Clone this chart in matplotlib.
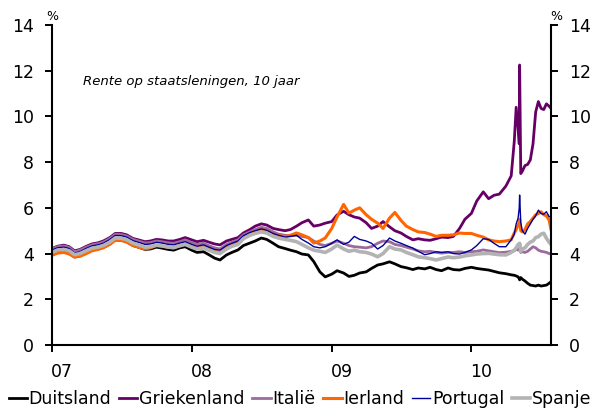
"""
Rente op staatsleningen, 10 jaar (2007 - juli 2010).
"""

import pandas as pd
import matplotlib
matplotlib.use("Agg")
import matplotlib.pyplot as plt
import matplotlib.dates as mdates
from matplotlib.ticker import FixedLocator, NullFormatter

# half-monthly points 2007-01-01 .. 2010-04-15, then finer points in 2010
dates_half = list(pd.date_range("2007-01-01", "2010-04-15", freq="SMS"))
dates_2010 = pd.to_datetime([
    "2010-04-23", "2010-04-28", "2010-05-03", "2010-05-06", "2010-05-07",
    "2010-05-10", "2010-05-14", "2010-05-21", "2010-05-28", "2010-06-04",
    "2010-06-11", "2010-06-18", "2010-06-25", "2010-07-02", "2010-07-09",
    "2010-07-16", "2010-07-23", "2010-07-28",
])
dates = dates_half + list(dates_2010)

duitsland = [
    3.95, 4.05, 4.08, 4.02, 3.85, 3.90, 4.05, 4.15, 4.20, 4.28, 4.42, 4.60,
    4.58, 4.52, 4.35, 4.28, 4.18, 4.20, 4.28, 4.24, 4.18, 4.15, 4.25, 4.30,
    4.15, 4.05, 4.08, 3.95, 3.80, 3.72, 3.94, 4.05, 4.16, 4.35, 4.46, 4.55,
    4.68, 4.62, 4.45, 4.30, 4.22, 4.15, 4.08, 3.98, 3.94, 3.65, 3.20, 2.98,
    3.10, 3.25, 3.15, 3.00, 3.05, 3.15, 3.20, 3.35, 3.50, 3.55, 3.64, 3.55,
    3.43, 3.38, 3.30, 3.37, 3.33, 3.40, 3.30, 3.25, 3.37, 3.30, 3.28, 3.35,
    3.40, 3.35, 3.31, 3.28, 3.22, 3.16, 3.12, 3.07,
    3.05, 3.02, 2.98, 2.90, 2.85, 2.95, 2.88, 2.80, 2.70, 2.62, 2.60, 2.58,
    2.62, 2.58, 2.60, 2.62, 2.70, 2.77,
]
griekenland = [
    4.22, 4.32, 4.37, 4.30, 4.12, 4.18, 4.32, 4.42, 4.47, 4.55, 4.70, 4.88,
    4.88, 4.82, 4.66, 4.60, 4.52, 4.55, 4.62, 4.60, 4.55, 4.55, 4.62, 4.70,
    4.60, 4.52, 4.58, 4.50, 4.42, 4.38, 4.55, 4.62, 4.70, 4.90, 5.05, 5.20,
    5.30, 5.25, 5.10, 5.05, 5.00, 5.05, 5.20, 5.35, 5.47, 5.20, 5.25, 5.33,
    5.40, 5.69, 5.85, 5.70, 5.60, 5.55, 5.35, 5.10, 5.20, 5.40, 5.17, 5.00,
    4.90, 4.75, 4.60, 4.65, 4.60, 4.58, 4.65, 4.72, 4.70, 4.75, 5.10, 5.50,
    5.76, 6.30, 6.70, 6.40, 6.55, 6.60, 6.95, 7.40,
    8.90, 10.40, 9.50, 8.80, 12.25, 7.50, 7.60, 7.85, 7.90, 8.10, 8.80, 10.20,
    10.65, 10.35, 10.30, 10.55, 10.45, 10.35,
]
italie = [
    4.20, 4.30, 4.33, 4.27, 4.08, 4.15, 4.28, 4.38, 4.43, 4.50, 4.66, 4.84,
    4.83, 4.77, 4.62, 4.55, 4.46, 4.48, 4.55, 4.52, 4.47, 4.45, 4.52, 4.60,
    4.48, 4.40, 4.45, 4.35, 4.25, 4.20, 4.40, 4.50, 4.60, 4.82, 4.95, 5.05,
    5.15, 5.10, 4.95, 4.85, 4.80, 4.78, 4.80, 4.75, 4.70, 4.55, 4.40, 4.35,
    4.45, 4.55, 4.45, 4.35, 4.30, 4.28, 4.25, 4.30, 4.45, 4.55, 4.52, 4.40,
    4.35, 4.28, 4.20, 4.12, 4.08, 4.10, 4.05, 4.02, 4.05, 4.05, 4.08, 4.05,
    4.08, 4.10, 4.16, 4.12, 4.08, 4.04, 4.06, 4.10,
    4.12, 4.20, 4.15, 4.20, 4.25, 4.05, 4.08, 4.05, 4.10, 4.20, 4.30, 4.25,
    4.15, 4.10, 4.08, 4.05, 4.00, 3.98,
]
ierland = [
    3.92, 4.02, 4.05, 3.98, 3.85, 3.88, 4.00, 4.12, 4.18, 4.25, 4.40, 4.58,
    4.58, 4.50, 4.35, 4.28, 4.20, 4.25, 4.35, 4.32, 4.28, 4.25, 4.35, 4.42,
    4.32, 4.25, 4.30, 4.20, 4.10, 4.05, 4.28, 4.40, 4.50, 4.72, 4.88, 4.98,
    5.05, 5.00, 4.85, 4.78, 4.75, 4.80, 4.90, 4.82, 4.70, 4.46, 4.55, 4.68,
    5.10, 5.60, 6.15, 5.77, 5.90, 6.00, 5.70, 5.50, 5.33, 5.10, 5.55, 5.80,
    5.45, 5.20, 5.05, 4.95, 4.92, 4.85, 4.75, 4.80, 4.80, 4.82, 4.90, 4.88,
    4.88, 4.80, 4.72, 4.60, 4.55, 4.52, 4.55, 4.60,
    4.90, 5.05, 5.25, 5.35, 5.50, 5.00, 4.95, 5.05, 5.30, 5.40, 5.55, 5.70,
    5.75, 5.83, 5.70, 5.65, 5.47, 5.05,
]
portugal = [
    4.15, 4.25, 4.28, 4.22, 4.02, 4.08, 4.23, 4.33, 4.38, 4.45, 4.61, 4.79,
    4.78, 4.72, 4.56, 4.49, 4.40, 4.42, 4.49, 4.46, 4.40, 4.38, 4.46, 4.52,
    4.40, 4.32, 4.38, 4.28, 4.18, 4.15, 4.35, 4.45, 4.55, 4.78, 4.92, 5.00,
    5.08, 5.02, 4.88, 4.80, 4.72, 4.75, 4.80, 4.62, 4.46, 4.30, 4.25, 4.30,
    4.45, 4.60, 4.40, 4.50, 4.75, 4.62, 4.55, 4.45, 4.20, 4.35, 4.68, 4.55,
    4.45, 4.35, 4.24, 4.10, 3.95, 4.00, 4.08, 4.05, 4.08, 4.00, 3.98, 4.05,
    4.16, 4.35, 4.65, 4.62, 4.45, 4.30, 4.30, 4.60,
    4.85, 5.30, 5.55, 6.00, 6.56, 5.35, 5.00, 4.85, 5.10, 5.30, 5.50, 5.65,
    5.90, 5.75, 5.72, 5.83, 5.62, 5.60,
]
spanje = [
    4.05, 4.15, 4.18, 4.12, 3.95, 4.00, 4.13, 4.23, 4.28, 4.35, 4.50, 4.68,
    4.67, 4.61, 4.45, 4.38, 4.28, 4.30, 4.37, 4.34, 4.28, 4.26, 4.34, 4.40,
    4.28, 4.20, 4.25, 4.15, 4.05, 4.00, 4.20, 4.32, 4.40, 4.65, 4.80, 4.88,
    4.95, 4.90, 4.75, 4.68, 4.62, 4.58, 4.52, 4.40, 4.25, 4.15, 4.10, 4.05,
    4.20, 4.37, 4.20, 4.10, 4.15, 4.08, 4.05, 3.98, 3.86, 4.00, 4.30, 4.20,
    4.16, 4.05, 3.95, 3.86, 3.82, 3.78, 3.72, 3.78, 3.85, 3.82, 3.85, 3.90,
    3.94, 3.98, 4.00, 4.01, 3.98, 3.95, 3.94, 4.05,
    4.15, 4.25, 4.40, 4.35, 4.45, 4.10, 4.20, 4.25, 4.40, 4.50, 4.55, 4.70,
    4.74, 4.85, 4.89, 4.67, 4.50, 4.40,
]

year_labels = ["07", "08", "09", "10"]

fig = plt.figure(figsize=(5.95, 4.09), dpi=100, facecolor="white")
ax = fig.add_axes([52 / 595, 1 - 345 / 409, 499 / 595, 320 / 409])

series = [
    ("Duitsland", duitsland, "#000000", 2.0),
    ("Griekenland", griekenland, "#660066", 2.0),
    ("Italië", italie, "#9B6B9B", 2.0),
    ("Ierland", ierland, "#FF6600", 2.2),
    ("Portugal", portugal, "#000099", 1.0),
    ("Spanje", spanje, "#B3B3B3", 2.6),
]
for label, vals, color, lw in series:
    ax.plot(dates, vals, color=color, lw=lw, label=label, solid_joinstyle="round")

ax.set_xlim(pd.Timestamp("2007-01-01"), pd.Timestamp("2010-07-28"))
ax.set_ylim(0, 14)
ax.set_yticks(range(0, 15, 2))

for side in ["left", "right", "bottom"]:
    ax.spines[side].set_linewidth(1.5)
ax.spines["top"].set_visible(False)

ax.tick_params(axis="y", which="major", left=True, right=True,
               labelleft=True, labelright=True, direction="out",
               length=5, width=1.4, pad=8, labelsize=12.5)

years = [pd.Timestamp(f"{y}-01-01") for y in (2007, 2008, 2009, 2010)]
ax.xaxis.set_major_locator(FixedLocator(mdates.date2num(years)))
ax.xaxis.set_major_formatter(NullFormatter())
label_pos = [y + pd.Timedelta(days=26) for y in years]
ax.xaxis.set_minor_locator(FixedLocator(mdates.date2num(label_pos)))
ax.set_xticklabels(year_labels, minor=True)
ax.tick_params(axis="x", which="major", direction="out", length=5, width=1.4)
ax.tick_params(axis="x", which="minor", length=0, pad=13, labelsize=12.5)

fig.text(52 / 595, 1 - 17 / 409, "%", ha="center", va="center", fontsize=9)
fig.text(556 / 595, 1 - 17 / 409, "%", ha="center", va="center", fontsize=9)
fig.text(83 / 595, 1 - 82 / 409, "Rente op staatsleningen, 10 jaar",
         ha="left", va="center", fontsize=9.5, style="italic")

fig.legend(loc="center", bbox_to_anchor=(300 / 595, 1 - 399 / 409), ncol=6,
           frameon=False, fontsize=12.5, handlelength=1.05, handletextpad=0.1,
           columnspacing=0.45, borderpad=0, borderaxespad=0)

fig.savefig("out.png", dpi=100)
